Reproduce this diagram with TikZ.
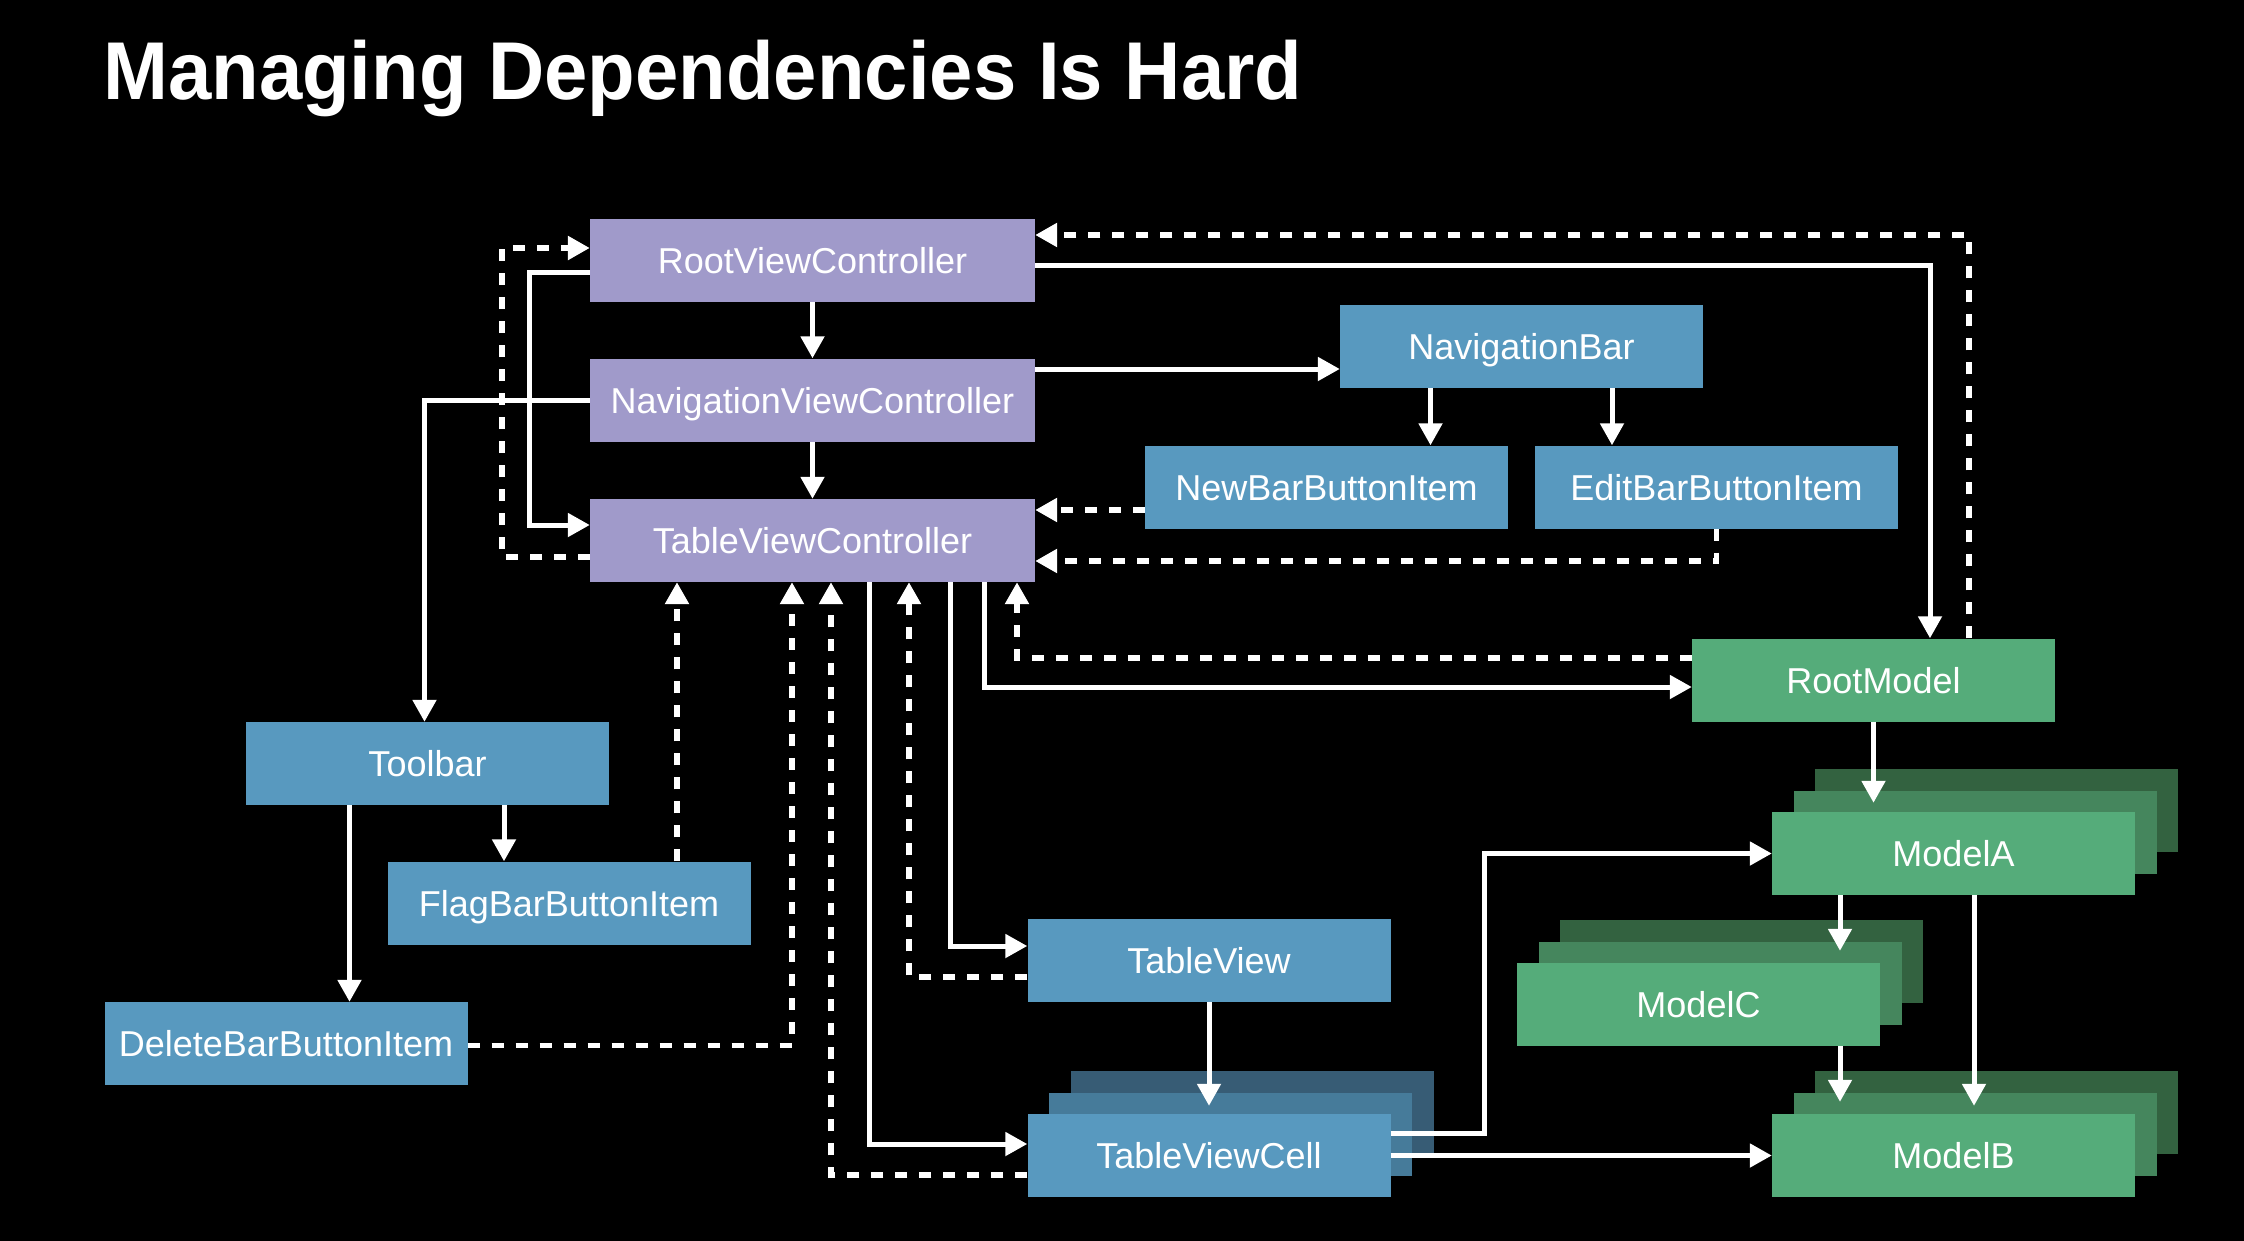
\documentclass[tikz,border=0pt]{standalone}
\usepackage{fontspec}
\usepackage{graphicx}
\setmainfont{Liberation Sans}
\usetikzlibrary{arrows.meta}
\definecolor{vpurple}{RGB}{160,154,202}
\definecolor{vblue}{RGB}{88,153,191}
\definecolor{vbluem}{RGB}{70,123,154}
\definecolor{vblueb}{RGB}{55,92,117}
\definecolor{vgreen}{RGB}{85,172,122}
\definecolor{vgreenm}{RGB}{69,134,93}
\definecolor{vgreenb}{RGB}{51,98,64}
\begin{document}
\begin{tikzpicture}[x=1pt,y=-1pt,
  box/.style={minimum width=363pt, minimum height=83pt, inner sep=0pt, text=white,
    font=\fontsize{36}{40}\selectfont, text height=26pt, text depth=0pt, anchor=center},
  pbox/.style={box, fill=vpurple, minimum width=445pt},
  bbox/.style={box, fill=vblue},
  gbox/.style={box, fill=vgreen},
  dep/.style={draw=white, line width=5pt, line join=miter, -{Triangle[length=22pt,width=23pt]}},
  ref/.style={dep, line width=5.5pt, dash pattern=on 12pt off 12pt}
]
\useasboundingbox (0,0) rectangle (2244,1240);
\fill[black] (-4,-4) rectangle (2248,1244);

\node[anchor=base west, text=white, inner sep=0pt,
  font=\fontsize{82}{90}\selectfont\bfseries] (title) at (103,99)
  {\scalebox{0.95}[1]{Managing Dependencies Is Hard}};

% view controllers
\node[pbox] (rvc) at (812.5,260) {RootViewController};
\node[pbox] (nvc) at (812.5,400) {NavigationViewController};
\node[pbox] (tvc) at (812.5,540.5) {TableViewController};

% blue views
\node[bbox] (navbar) at (1521.5,346.5) {NavigationBar};
\node[bbox] (newbbi) at (1326.5,487) {NewBarButtonItem};
\node[bbox] (editbbi) at (1716.5,487) {EditBarButtonItem};
\node[bbox] (toolbar) at (427.5,763.5) {Toolbar};
\node[bbox] (flag) at (569,903) {FlagBarButtonItem};
\node[bbox] (delete) at (286,1043.5) {DeleteBarButtonItem};
\node[bbox] (tableview) at (1209,960.5) {TableView};
\node[bbox, fill=vblueb] (tvcell3) at (1252,1112.5) {};
\node[bbox, fill=vbluem] (tvcell2) at (1230.5,1134) {};
\node[bbox] (tvcell) at (1209,1155.5) {TableViewCell};

% models
\node[gbox] (rootmodel) at (1873.5,680) {RootModel};
\node[gbox, fill=vgreenb] (modelA3) at (1996.5,810.5) {};
\node[gbox, fill=vgreenm] (modelA2) at (1975,832) {};
\node[gbox] (modelA) at (1953.5,853.5) {ModelA};
\node[gbox, fill=vgreenb] (modelC3) at (1741.5,961.5) {};
\node[gbox, fill=vgreenm] (modelC2) at (1720,983) {};
\node[gbox] (modelC) at (1698.5,1004.5) {ModelC};
\node[gbox, fill=vgreenb] (modelB3) at (1996.5,1112.5) {};
\node[gbox, fill=vgreenm] (modelB2) at (1975,1134) {};
\node[gbox] (modelB) at (1953.5,1155.5) {ModelB};

% controller chain
\draw[dep] (rvc.south) -- (nvc.north);
\draw[dep] (nvc.south) -- (tvc.north);
\draw[dep] ([yshift=-12pt]rvc.west) -- ++(-60,0) |- ([yshift=15.5pt]tvc.west);
\draw[ref] ([yshift=-16.5pt]tvc.west) -- ++(-88,0) |- ([yshift=12pt]rvc.west);
\draw[dep] (nvc.west) -| ([xshift=-3pt]toolbar.north);
\draw[dep] ([yshift=31pt]nvc.east) -- ([yshift=31pt]nvc.east -| navbar.west);

% navigation bar
\draw[dep] ([xshift=-91pt]navbar.south) -- ([xshift=-91pt]navbar.south |- newbbi.north);
\draw[dep] ([xshift=90.5pt]navbar.south) -- ([xshift=90.5pt]navbar.south |- editbbi.north);
\draw[ref] ([yshift=-23pt]newbbi.west) -- ([yshift=-23pt]newbbi.west -| tvc.east);
\draw[ref] (editbbi.south) |- ([yshift=-20.5pt]tvc.east);

% root model
\draw[dep] ([yshift=-5pt]rvc.east) -| ([xshift=56.5pt]rootmodel.north);
\draw[ref] ([xshift=95.5pt]rootmodel.north) |- ([yshift=25pt]rvc.east);
\draw[dep] ([xshift=171.5pt]tvc.south) |- ([yshift=-7pt]rootmodel.west);
\draw[ref] ([yshift=22pt]rootmodel.west) -| ([xshift=204.5pt]tvc.south);
\draw[dep, shorten >=9pt] (rootmodel.south) -- (rootmodel.south |- modelA.north);

% toolbar
\draw[dep] ([xshift=76.5pt]toolbar.south) -- ([xshift=76.5pt]toolbar.south |- flag.north);
\draw[dep] ([xshift=-78pt]toolbar.south) -- ([xshift=-78pt]toolbar.south |- delete.north);
\draw[ref] ([xshift=108pt]flag.north) -- ([xshift=108pt]flag.north |- tvc.south);
\draw[ref] ([yshift=-2pt]delete.east) -| ([xshift=-20.5pt]tvc.south);

% table view
\draw[ref] ([yshift=-19.5pt]tvcell.west) -| ([xshift=18.5pt]tvc.south);
\draw[dep] ([xshift=56.5pt]tvc.south) |- ([yshift=11.5pt]tvcell.west);
\draw[ref] ([yshift=-16.5pt]tableview.west) -| ([xshift=96.5pt]tvc.south);
\draw[dep] ([xshift=137.5pt]tvc.south) |- ([yshift=14.5pt]tableview.west);
\draw[dep, shorten >=8pt] (tableview.south) -- (tvcell.north);

% cell to models
\draw[dep] ([yshift=22.5pt]tvcell.east) -- ++(94,0) |- (modelA.west);
\draw[dep] (tvcell.east) -- (modelB.west);
\draw[dep, shorten >=12pt] ([xshift=-113.5pt]modelA.south) -- ([xshift=-113.5pt]modelA.south |- modelC.north);
\draw[dep, shorten >=12pt] ([xshift=141.5pt]modelC.south) -- ([xshift=141.5pt]modelC.south |- modelB.north);
\draw[dep, shorten >=8pt] ([xshift=20.5pt]modelA.south) -- ([xshift=20.5pt]modelA.south |- modelB.north);
\end{tikzpicture}
\end{document}
